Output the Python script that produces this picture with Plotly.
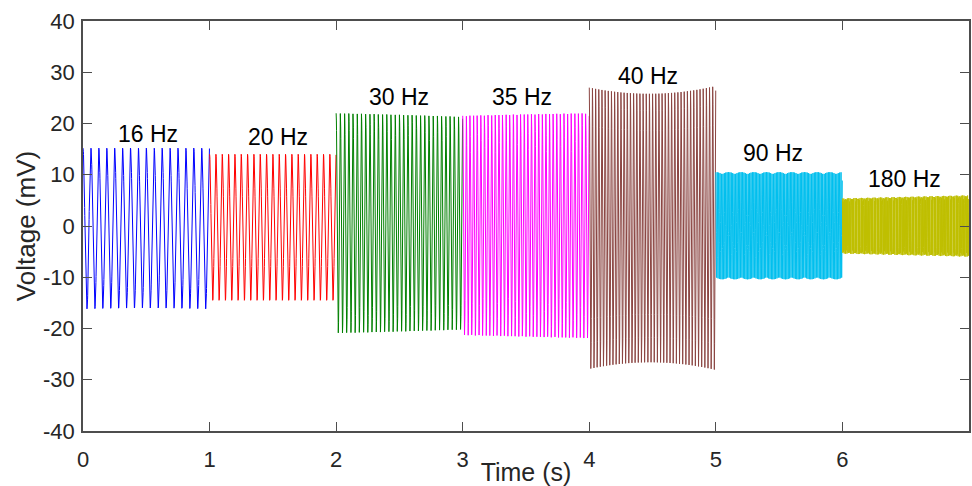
import numpy as np
import plotly.graph_objects as go

# ---- data ----
seg_labels = ["16 Hz", "20 Hz", "30 Hz", "35 Hz", "40 Hz", "90 Hz", "180 Hz"]
seg_freqs = [16, 20, 30, 35, 40, 90, 180]            # Hz
seg_starts = [0, 1, 2, 3, 4, 5, 6]                   # s
seg_duration = 1.0                                   # s
# upper / lower envelope (mV) at segment start, middle, end
top_env = [(15.2, 15.2, 15.2), (14.0, 14.0, 14.0), (22.0, 21.7, 21.3),
           (21.5, 21.8, 22.0), (27.0, 25.8, 27.3), (10.5, 10.5, 10.5),
           (5.4, 5.7, 6.0)]
bot_env = [(-16.2, -16.0, -16.2), (-14.5, -14.5, -14.5), (-20.9, -20.6, -20.2),
           (-21.3, -21.6, -21.9), (-28.1, -26.8, -28.3), (-10.4, -10.4, -10.4),
           (-5.4, -5.7, -6.0)]
seg_colors = ["#0000ff", "#ff0000", "#008000", "#ff00ff", "#8b4542", "#00bfee", "#bfbf00"]
label_x = [0.51, 1.54, 2.50, 3.47, 4.46, 5.45, 6.49]
label_y = [18.0, 17.4, 25.2, 25.2, 29.3, 14.2, 9.2]
sample_rate = 1000  # Hz

x_ticks = [0, 1, 2, 3, 4, 5, 6, 7]
x_tick_text = ["0", "1", "2", "3", "4", "5", "6", "7"]
y_ticks = [-40, -30, -20, -10, 0, 10, 20, 30, 40]
y_tick_text = ["-40", "-30", "-20", "-10", "0", "10", "20", "30", "40"]


def envelope(vals, u):
    a, b, c = vals
    return (a * 2 * (u - 0.5) * (u - 1) - b * 4 * u * (u - 1) + c * 2 * u * (u - 0.5))


fig = go.Figure()
for lab, f, t0, te, be, col in zip(seg_labels, seg_freqs, seg_starts, top_env, bot_env, seg_colors):
    t = np.arange(0, seg_duration, 1.0 / sample_rate)
    u = t / seg_duration
    top = envelope(te, u)
    bot = envelope(be, u)
    v = (top + bot) / 2 + (top - bot) / 2 * np.cos(2 * np.pi * f * t)
    fig.add_trace(go.Scatter(x=t + t0, y=v, mode="lines", name=lab,
                             line=dict(color=col, width=1), showlegend=False,
                             hoverinfo="skip"))

for lab, x, y in zip(seg_labels, label_x, label_y):
    fig.add_annotation(x=x, y=y, text=lab, showarrow=False,
                       font=dict(size=23, color="#000000", family="Liberation Sans, Arial"))

axis_col = "#4d4d4d"
fig.update_layout(
    width=972, height=486,
    margin=dict(l=83, r=3, t=21, b=55),
    paper_bgcolor="white", plot_bgcolor="white",
    font=dict(family="Liberation Sans, Arial", color="#262626"),
    xaxis=dict(range=[0, 7], tickvals=x_ticks, ticktext=x_tick_text, ticks="inside", ticklen=9,
               tickcolor=axis_col, tickwidth=1.2, showline=True, linecolor=axis_col,
               linewidth=1.5, mirror="ticks", showgrid=False, zeroline=False,
               automargin=False,
               tickfont=dict(size=22, color="#262626"), ticklabelstandoff=8,
               title=dict(text="Time (s)", font=dict(size=25, color="#262626"), standoff=0)),
    yaxis=dict(range=[-40, 40], tickvals=y_ticks, ticktext=y_tick_text, ticks="inside", ticklen=9,
               tickcolor=axis_col, tickwidth=1.2, showline=True, linecolor=axis_col,
               linewidth=1.5, mirror="ticks", showgrid=False, zeroline=False,
               automargin=False,
               tickfont=dict(size=22, color="#262626"), ticklabelstandoff=2,
               title=dict(text="Voltage (mV)", font=dict(size=26, color="#262626"), standoff=0)),
)

fig.write_html("out.html")
